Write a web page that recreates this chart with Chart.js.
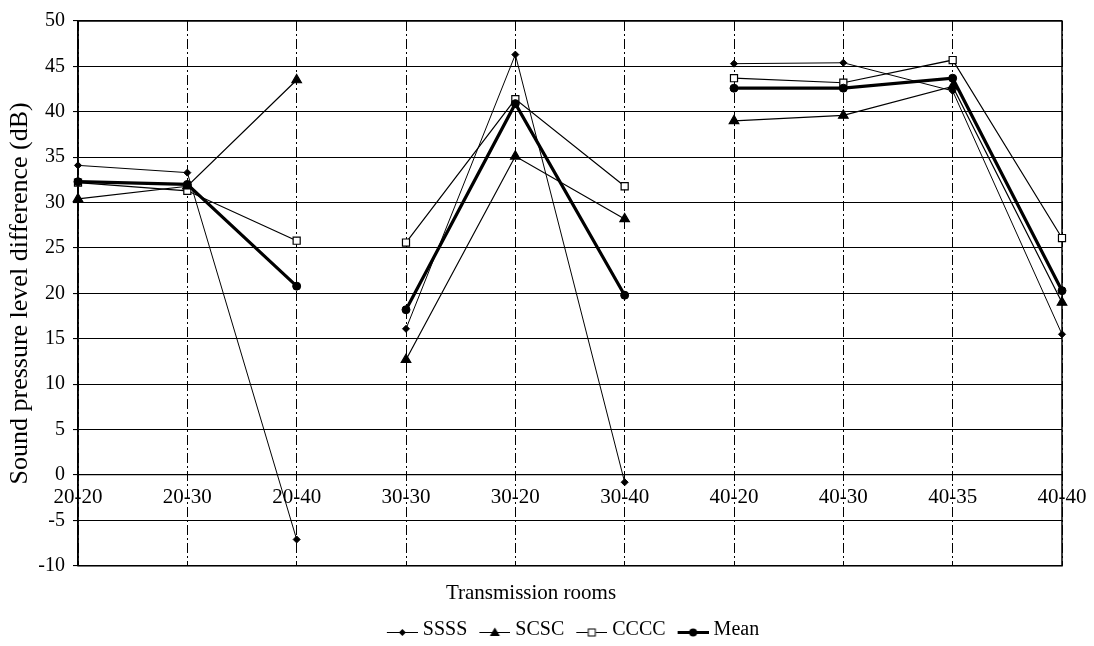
<!DOCTYPE html>
<html>
<head>
<meta charset="utf-8">
<script src="https://cdn.jsdelivr.net/npm/chart.js@4/dist/chart.umd.min.js"></script>
<style>
html,body{margin:0;padding:0;background:#fff;}
#wrap{width:1094px;height:646px;}
</style>
</head>
<body>
<div id="wrap"><canvas id="c" width="1094" height="646"></canvas></div>
<script>
const categories = ['20-20','20-30','20-40','30-30','30-20','30-40','40-20','40-30','40-35','40-40'];
const ssss = [34.1, 33.3, -7.1, 16.1, 46.3, -0.8, 45.3, 45.4, 42.3, 15.5];
const scsc = [30.4, 31.8, 43.5, 12.7, 35.1, 28.2, 39.0, 39.6, 42.8, 19.0];
const cccc = [32.2, 31.3, 25.8, 25.6, 41.4, 31.8, 43.7, 43.2, 45.7, 26.1];
const mean = [32.3, 32.0, 20.8, 18.2, 40.9, 19.8, 42.6, 42.6, 43.7, 20.3];
const gapAfter = [2, 5];
const seriesNames = ['SSSS','SCSC','CCCC','Mean'];

const FONT = "'Liberation Serif', 'Times New Roman', serif";

function legendIcon(kind){
  const c = document.createElement('canvas');
  c.width = 42; c.height = 16;
  const g = c.getContext('2d');
  g.strokeStyle = '#000'; g.fillStyle = '#000';
  const x0 = 11, x1 = 42, cy = 10.5, cx = (x0 + x1) / 2;
  g.lineWidth = kind === 'circle' ? 3 : 1;
  g.beginPath(); g.moveTo(x0, cy); g.lineTo(x1, cy); g.stroke();
  g.lineWidth = 1;
  if (kind === 'diamond'){
    g.beginPath(); g.moveTo(cx, cy-3.5); g.lineTo(cx+3.5, cy); g.lineTo(cx, cy+3.5); g.lineTo(cx-3.5, cy); g.closePath(); g.fill();
  } else if (kind === 'triangle'){
    g.beginPath(); g.moveTo(cx, cy-5); g.lineTo(cx+5, cy+3.5); g.lineTo(cx-5, cy+3.5); g.closePath(); g.fill();
  } else if (kind === 'square'){
    g.fillStyle = '#fff'; g.fillRect(cx-4, cy-4, 8, 8); g.strokeRect(cx-3.5, cy-3.5, 7, 7);
  } else {
    g.beginPath(); g.arc(cx, cy, 4, 0, Math.PI*2); g.fill();
  }
  return c;
}
const icons = [legendIcon('diamond'), legendIcon('triangle'), legendIcon('square'), legendIcon('circle')];

const segHide = { borderColor: ctx => gapAfter.includes(ctx.p0DataIndex) ? 'rgba(0,0,0,0)' : undefined };

const framePlugin = {
  id: 'frame',
  beforeDatasetsDraw(chart){
    const a = chart.chartArea, g = chart.ctx;
    g.save(); g.strokeStyle = '#000'; g.lineWidth = 1.5;
    g.strokeRect(a.left, a.top, a.right - a.left, a.bottom - a.top);
    g.restore();
  }
};

new Chart(document.getElementById('c'), {
  type: 'line',
  data: {
    labels: categories,
    datasets: [
      { label: seriesNames[3], data: mean, borderColor:'#000', backgroundColor:'#000', borderWidth:3.2, pointStyle:'circle', pointRadius:4, pointBorderWidth:1, pointBackgroundColor:'#000', pointBorderColor:'#000', segment: segHide },
      { label: seriesNames[0], data: ssss, borderColor:'#000', backgroundColor:'#000', borderWidth:1, pointStyle:'rectRot', pointRadius:3.5, pointBackgroundColor:'#000', pointBorderColor:'#000', segment: segHide },
      { label: seriesNames[1], data: scsc, borderColor:'#000', backgroundColor:'#000', borderWidth:1.2, pointStyle:'triangle', pointRadius:5.5, pointBackgroundColor:'#000', pointBorderColor:'#000', segment: segHide },
      { label: seriesNames[2], data: cccc, borderColor:'#000', backgroundColor:'#fff', borderWidth:1.2, pointStyle:'rect', pointRadius:5, pointBackgroundColor:'#fff', pointBorderColor:'#000', pointBorderWidth:1.2, segment: segHide }
    ]
  },
  options: {
    responsive: false,
    animation: false,
    layout: { padding: { left: 0, right: 32, top: 21, bottom: -4 } },
    scales: {
      x: {
        type: 'category',
        position: { y: 0 },
        offset: false,
        grid: { display: true, color: '#000', lineWidth: 1, drawTicks: false, drawOnChartArea: true },
        border: { display: true, color: '#000', width: 1.2, dash: [10, 3, 2, 3] },
        ticks: { color: '#000', font: { family: FONT, size: 21 }, padding: 10, maxRotation: 0, autoSkip: false },
        afterFit(scale){ scale.paddingLeft = 0; scale.paddingRight = 0; }
      },
      y: {
        min: -10, max: 50,
        ticks: { stepSize: 5, color: '#000', font: { family: FONT, size: 20 }, padding: 8 },
        grid: { color: '#000', lineWidth: 1.1, tickLength: 5 },
        border: { display: true, color: '#000', width: 1.5 },
        title: { display: true, text: 'Sound pressure level difference (dB)', color: '#000', font: { family: FONT, size: 26 }, padding: { top: 5, bottom: 0 } },
        afterFit(scale){ scale.width = 78; }
      }
    },
    plugins: {
      title: {
        display: true, position: 'bottom', weight: 500, text: 'Transmission rooms', color: '#000',
        font: { family: FONT, size: 21, weight: 'normal' }, padding: { top: 15, bottom: 8 }
      },
      legend: {
        display: true, position: 'bottom', weight: 1000, fullSize: false,
        labels: {
          color: '#000', font: { family: FONT, size: 20 }, usePointStyle: true, pointStyleWidth: 32, boxHeight: 16, padding: 6,
          generateLabels(chart){
            const order = [1,2,3,0];
            return order.map((di, i) => ({
              text: chart.data.datasets[di].label,
              pointStyle: icons[i],
              fillStyle: '#000', strokeStyle: '#000', lineWidth: 0,
              hidden: false, datasetIndex: di, fontColor: '#000'
            }));
          }
        }
      },
      tooltip: { enabled: false }
    }
  },
  plugins: [framePlugin]
});
</script>
</body>
</html>
